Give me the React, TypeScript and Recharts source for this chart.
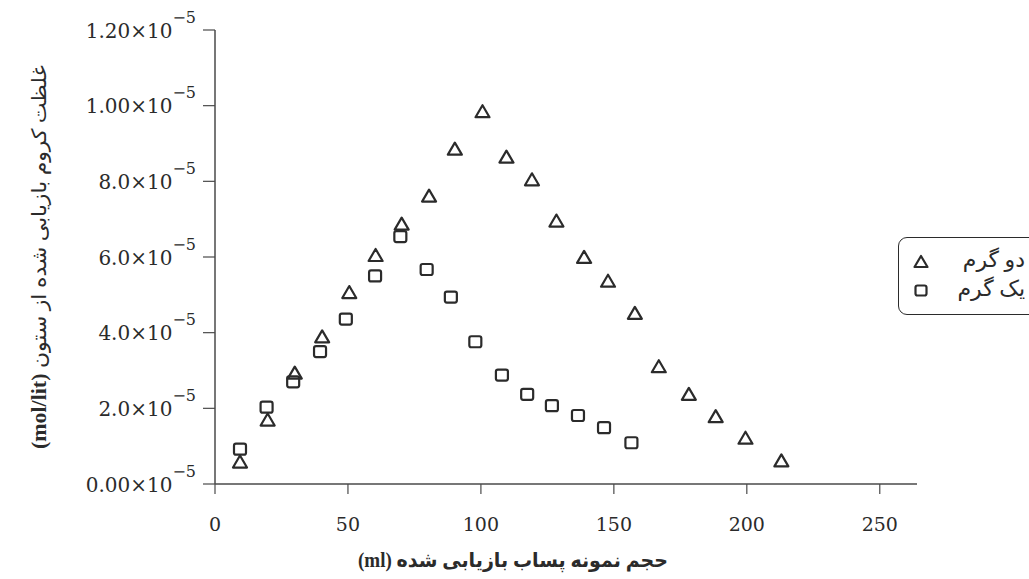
import React from 'react';
import { ScatterChart, Scatter, XAxis, YAxis, Legend } from 'recharts';

// Recovered chromium concentration vs. collected effluent volume
const volumeTwoGram = [9.4, 19.8, 30, 40.3, 50.5, 60.4, 70.2, 80.5, 90.2, 100.6, 109.6, 119.2, 128.4, 138.8, 147.8, 157.9, 166.9, 178.2, 188.3, 199.5, 213];
const concTwoGram = [0.58, 1.69, 2.93, 3.89, 5.06, 6.04, 6.87, 7.61, 8.85, 9.84, 8.64, 8.04, 6.95, 5.99, 5.36, 4.51, 3.1, 2.37, 1.78, 1.21, 0.61];

const volumeOneGram = [9.4, 19.4, 29.4, 39.5, 49.2, 60.2, 69.7, 79.6, 88.7, 97.9, 107.9, 117.4, 126.7, 136.5, 146.3, 156.6];
const concOneGram = [0.92, 2.03, 2.7, 3.5, 4.36, 5.5, 6.54, 5.67, 4.94, 3.76, 2.88, 2.37, 2.07, 1.81, 1.49, 1.09];

const xTicks = [0, 50, 100, 150, 200, 250];
const yTicks = [0, 2, 4, 6, 8, 10, 12];
const yTickMantissas = ['0.00', '2.0', '4.0', '6.0', '8.0', '1.00', '1.20'];
const yTickExponent = '−5';

const seriesNames = ['دو گرم', 'یک گرم'];
const xTitle = 'حجم نمونه پساب بازیابی شده (ml)';
const yTitleFa = 'غلظت کروم بازیابی شده از ستون ';
const yTitleUnit = '(mol/lit)';

const twoGram = volumeTwoGram.map((x, i) => ({ x, y: concTwoGram[i] }));
const oneGram = volumeOneGram.map((x, i) => ({ x, y: concOneGram[i] }));

const INK = '#2b2b2b';
const AXIS = '#4a4a4a';
const NUM_FONT = "'DejaVu Serif', serif";
const FA_FONT = "'Liberation Serif', 'DejaVu Sans', sans-serif";

const TriangleMark = (p: any) => {
  const { cx, cy } = p;
  return (
    <path
      d={`M${cx},${cy - 6.5} L${cx + 7},${cy + 5.5} L${cx - 7},${cy + 5.5} Z`}
      fill="none"
      stroke={INK}
      strokeWidth={2.2}
      strokeLinejoin="round"
    />
  );
};

const SquareMark = (p: any) => {
  const { cx, cy } = p;
  return (
    <rect x={cx - 6} y={cy - 5.5} width={12} height={11} rx={2} fill="none" stroke={INK} strokeWidth={2.2} />
  );
};

const XTick = (props: any) => {
  const { x, y, payload } = props;
  return (
    <text x={x} y={y + 35} textAnchor="middle" fontFamily={NUM_FONT} fontSize={19} fill={INK}>
      {payload.value}
    </text>
  );
};

const YTick = (props: any) => {
  const { x, y, payload } = props;
  const i = yTicks.indexOf(payload.value);
  return (
    <text x={x} y={y + 7.5} textAnchor="end" fontFamily={NUM_FONT} fontSize={20} fill={INK}>
      <tspan>{yTickMantissas[i]}×10</tspan>
      <tspan dy={-15} fontSize={16}>{yTickExponent}</tspan>
    </text>
  );
};

const XTitle = (props: any) => {
  const vb = props.viewBox || { x: 0, y: 0 };
  return (
    <text
      x={vb.x + 298}
      y={vb.y + 83}
      textAnchor="middle"
      direction="rtl"
      fontFamily={FA_FONT}
      fontWeight="bold"
      fontSize={20}
      textLength={310}
      lengthAdjust="spacingAndGlyphs"
      fill={INK}
    >
      {xTitle}
    </text>
  );
};

const YTitle = (props: any) => {
  const vb = props.viewBox || { x: 0, y: 0, height: 0 };
  const cx = vb.x + 46;
  const cy = vb.y + vb.height / 2;
  return (
    <text
      x={cx}
      y={cy}
      transform={`rotate(-90, ${cx}, ${cy})`}
      textAnchor="middle"
      direction="rtl"
      fontFamily={FA_FONT}
      fontSize={20}
      textLength={384}
      lengthAdjust="spacingAndGlyphs"
      fill={INK}
    >
      <tspan>{yTitleFa}</tspan>
      <tspan fontWeight="bold">{yTitleUnit}</tspan>
    </text>
  );
};

const LegendMarker = ({ type }: { type: string }) => (
  <svg width={18} height={18} style={{ position: 'absolute', left: 13, top: 6 }}>
    {type === 'triangle' ? (
      <path d="M9,3 L15.5,14 L2.5,14 Z" fill="none" stroke={INK} strokeWidth={2.2} strokeLinejoin="round" />
    ) : (
      <rect x={3.5} y={3.5} width={11} height={10} rx={2} fill="none" stroke={INK} strokeWidth={2.2} />
    )}
  </svg>
);

const renderLegend = (props: any) => {
  const items = props.payload || [];
  return (
    <div
      style={{
        position: 'relative',
        width: 140,
        height: 78,
        boxSizing: 'border-box',
        border: `1.6px solid ${INK}`,
        borderRadius: 9,
        background: '#fff',
      }}
    >
      {items.map((entry: any, i: number) => (
        <div key={entry.value} style={{ position: 'absolute', left: 0, top: 9 + i * 29, width: 140, height: 30 }}>
          <LegendMarker type={entry.type} />
          <span
            style={{
              position: 'absolute',
              left: 44,
              width: 82,
              top: -2,
              textAlign: 'right',
              direction: 'rtl',
              fontFamily: FA_FONT,
              fontSize: 22,
              lineHeight: '30px',
              color: INK,
            }}
          >
            {entry.value}
          </span>
        </div>
      ))}
    </div>
  );
};

export default function App() {
  return (
    <div style={{ position: 'absolute', left: 0, top: 0, width: 1029, height: 579, overflow: 'hidden', background: '#fff' }}>
      <ScatterChart width={1029} height={579} margin={{ top: 30, right: 112, left: 0, bottom: 0 }}>
        <XAxis
          type="number"
          dataKey="x"
          domain={[0, 264]}
          ticks={xTicks}
          interval={0}
          height={95}
          tickSize={10}
          axisLine={{ stroke: AXIS, strokeWidth: 1.5 }}
          tickLine={{ stroke: AXIS, strokeWidth: 1.2 }}
          tick={<XTick />}
          label={<XTitle />}
        />
        <YAxis
          type="number"
          dataKey="y"
          domain={[0, 12]}
          ticks={yTicks}
          interval={0}
          width={215}
          tickSize={12}
          tickMargin={7}
          axisLine={{ stroke: AXIS, strokeWidth: 1.5 }}
          tickLine={{ stroke: AXIS, strokeWidth: 1.2 }}
          tick={<YTick />}
          label={<YTitle />}
        />
        <Legend
          layout="horizontal"
          verticalAlign="middle"
          align="center"
          content={renderLegend}
          wrapperStyle={{ left: 898, top: 237, width: 140, height: 78 }}
        />
        <Scatter
          name={seriesNames[0]}
          data={twoGram}
          legendType="triangle"
          shape={TriangleMark}
          fill={INK}
          isAnimationActive={false}
        />
        <Scatter
          name={seriesNames[1]}
          data={oneGram}
          legendType="square"
          shape={SquareMark}
          fill={INK}
          isAnimationActive={false}
        />
      </ScatterChart>
    </div>
  );
}
